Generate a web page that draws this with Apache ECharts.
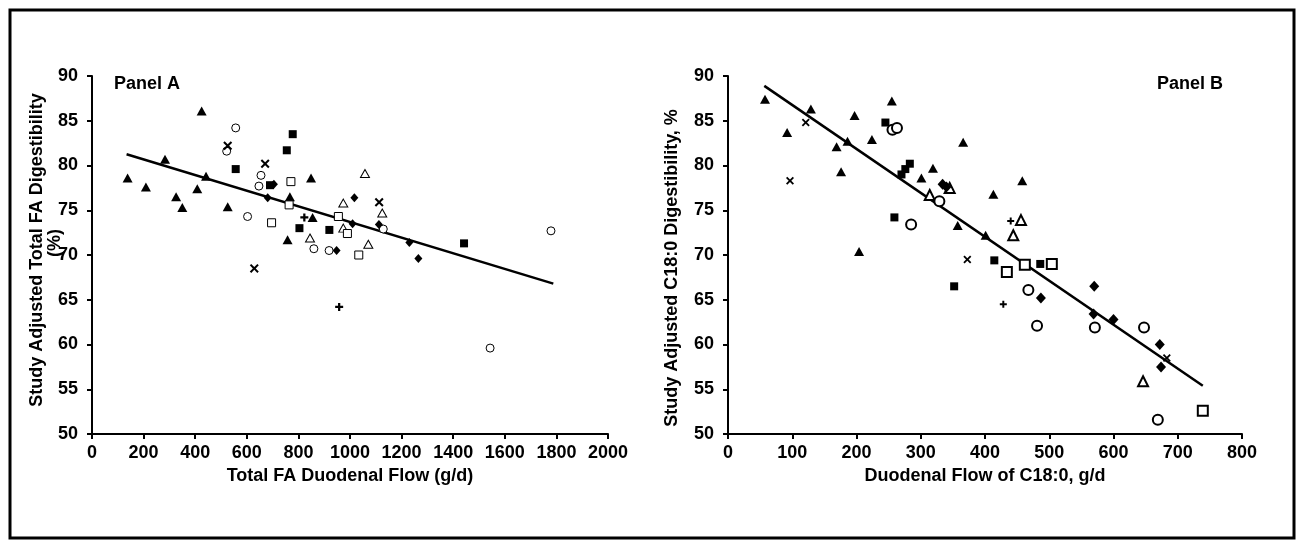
<!DOCTYPE html>
<html>
<head>
<meta charset="utf-8">
<script src="https://cdn.jsdelivr.net/npm/echarts@6/dist/echarts.min.js"></script>
<style>html,body{margin:0;padding:0;background:#fff;}#c{width:1304px;height:544px;}</style>
</head>
<body>
<div id="c"></div>
<script>
// ---------- Panel A data: [Total FA duodenal flow g/d, adjusted digestibility %] ----------
const aTriFilled = [[138,78.6],[209,77.6],[283,80.7],[425,86.1],[326,76.5],[350,75.3],[408,77.4],[442,78.8],[526,75.4],[767,76.5],[849,78.6],[758,71.7],[855,74.2]];
const aTriOpen = [[1058,79.1],[974,75.8],[974,73.0],[845,71.9],[1071,71.2],[1125,74.7]];
const aSqFilled = [[778,83.5],[755,81.7],[557,79.6],[690,77.8],[804,73.0],[920,72.8],[1442,71.3]];
const aSqOpen = [[771,78.2],[764,75.6],[696,73.6],[955,74.3],[990,72.4],[1034,70.0]];
const aCircleOpen = [[557,84.2],[522,81.6],[655,78.9],[647,77.7],[603,74.3],[860,70.7],[919,70.5],[1129,72.9],[1779,72.7],[1543,59.6]];
const aDiamond = [[681,76.4],[705,77.9],[1017,76.4],[948,70.5],[1010,73.5],[1112,73.4],[1230,71.4],[1265,69.6]];
const aCross = [[526,82.2],[671,80.2],[629,68.5],[1113,75.9]];
const aPlus = [[823,74.2],[958,64.2]];
const aTrendX = [134, 1788];
const aTrendY = [81.25, 66.8];

// ---------- Panel B data: [C18:0 duodenal flow g/d, adjusted C18:0 digestibility %] ----------
const bTriFilled = [[57.6,87.4],[129,86.3],[92,83.7],[169,82.1],[186,82.7],[197,85.6],[224,82.9],[255,87.2],[176,79.3],[204,70.4],[301,78.6],[319,79.7],[366,82.6],[357.5,73.3],[401,72.2],[458,78.3],[413,76.8]];
const bTriOpen = [[314,76.7],[345,77.5],[456,73.9],[444,72.2],[646,55.9]];
const bSqFilled = [[245,84.8],[259,74.2],[352,66.5],[283,80.2],[276,79.6],[270,79.0],[414.5,69.4],[486,69.0]];
const bSqOpen = [[434,68.1],[462,68.9],[504,69.0],[739,52.6]];
const bCircleOpen = [[256,84.0],[263,84.2],[329,76.0],[285,73.4],[467.5,66.1],[481,62.1],[571,61.9],[647.5,61.9],[669,51.6]];
const bDiamond = [[334,77.9],[340,77.6],[487,65.2],[570,66.5],[569,63.4],[600,62.8],[672,60.0],[674,57.5]];
const bCross = [[121,84.8],[96.5,78.3],[372.5,69.5],[683,58.5]];
const bPlus = [[440,73.8],[428.5,64.5]];
const bTrendX = [56.5, 739];
const bTrendY = [88.9, 55.4];

// ---------- tick labels / axis ranges ----------
const aXTicks = [0,200,400,600,800,1000,1200,1400,1600,1800,2000];
const bXTicks = [0,100,200,300,400,500,600,700,800];
const yTicks = [50,55,60,65,70,75,80,85,90];

const FONT = '"Liberation Sans", Arial, sans-serif';
const CROSS = 'path://M0,1.6L1.6,0L5,3.4L8.4,0L10,1.6L6.6,5L10,8.4L8.4,10L5,6.6L1.6,10L0,8.4L3.4,5Z';
const PLUS = 'path://M3.6,0H6.4V3.6H10V6.4H6.4V10H3.6V6.4H0V3.6H3.6Z';

function xAxisDef(idx, ticks, name){
  return {
    type:'value', gridIndex: idx, min: ticks[0], max: ticks[ticks.length-1],
    interval: ticks[1]-ticks[0],
    name: name, nameLocation:'middle', nameGap: 27,
    nameTextStyle:{fontFamily:FONT, fontWeight:'bold', fontSize:18, color:'#000'},
    axisLine:{show:true, onZero:false, lineStyle:{color:'#000', width:2}},
    axisTick:{show:true, inside:false, length:5, lineStyle:{color:'#000', width:2}},
    axisLabel:{fontFamily:FONT, fontWeight:'bold', fontSize:18, color:'#000', margin:10,
               formatter: v => String(v)},
    splitLine:{show:false}
  };
}
function yAxisDef(idx){
  return {
    type:'value', gridIndex: idx, min: yTicks[0], max: yTicks[yTicks.length-1],
    interval: yTicks[1]-yTicks[0],
    axisLine:{show:true, onZero:false, lineStyle:{color:'#000', width:2}},
    axisTick:{show:true, inside:false, length:5, lineStyle:{color:'#000', width:2}},
    axisLabel:{fontFamily:FONT, fontWeight:'bold', fontSize:18, color:'#000', margin:14,
               formatter: v => String(v)},
    splitLine:{show:false}
  };
}
function sc(idx, data, symbol, size, filled, bw){
  return {
    type:'scatter', xAxisIndex: idx, yAxisIndex: idx, data: data,
    symbol: symbol, symbolSize: size, animation:false, silent:true, z:3,
    itemStyle: filled ? {color:'#000', borderWidth:0, opacity:1}
                      : {color:'#fff', borderColor:'#000', borderWidth:bw, opacity:1}
  };
}
function trend(idx, xs, ys){
  return {
    type:'line', xAxisIndex: idx, yAxisIndex: idx,
    data: xs.map((x,i)=>[x, ys[i]]), showSymbol:false, symbol:'none',
    lineStyle:{color:'#000', width:2.5, opacity:1}, animation:false, silent:true, z:2
  };
}

const chart = echarts.init(document.getElementById('c'), null, {renderer:'canvas'});
chart.setOption({
  backgroundColor:'#fff',
  animation:false,
  grid:[
    {left:92, top:76, width:516, height:358},
    {left:728, top:76, width:514, height:358}
  ],
  xAxis:[ xAxisDef(0, aXTicks, 'Total FA Duodenal Flow (g/d)'),
          xAxisDef(1, bXTicks, 'Duodenal Flow of C18:0, g/d') ],
  yAxis:[ yAxisDef(0), yAxisDef(1) ],
  series:[
    trend(0, aTrendX, aTrendY),
    sc(0, aTriFilled, 'triangle', [10,9], true),
    sc(0, aTriOpen, 'triangle', [9,8], false, 1),
    sc(0, aSqFilled, 'rect', 8, true),
    sc(0, aSqOpen, 'rect', 8, false, 1),
    sc(0, aCircleOpen, 'circle', 8, false, 1),
    sc(0, aDiamond, 'diamond', [8,9], true),
    sc(0, aCross, CROSS, 9, true),
    sc(0, aPlus, PLUS, 8, true),
    trend(1, bTrendX, bTrendY),
    sc(1, bTriFilled, 'triangle', [10,9], true),
    sc(1, bTriOpen, 'triangle', [10,10], false, 2),
    sc(1, bSqFilled, 'rect', 8, true),
    sc(1, bSqOpen, 'rect', 10, false, 2),
    sc(1, bCircleOpen, 'circle', 10, false, 2),
    sc(1, bDiamond, 'diamond', [10,11], true),
    sc(1, bCross, CROSS, 8, true),
    sc(1, bPlus, PLUS, 7, true)
  ],
  graphic:[
    {type:'rect', shape:{x:10, y:10, width:1284, height:528}, style:{fill:'none', stroke:'#000', lineWidth:3}, silent:true},
    {type:'text', x:114, y:84, style:{text:'Panel A', font:'bold 18px '+FONT, fill:'#000', textAlign:'left', textVerticalAlign:'middle'}},
    {type:'text', x:1223, y:84, style:{text:'Panel B', font:'bold 18px '+FONT, fill:'#000', textAlign:'right', textVerticalAlign:'middle'}},
    {type:'text', x:37, y:250, rotation:Math.PI/2, style:{text:'Study Adjusted Total FA Digestibility', font:'bold 18px '+FONT, fill:'#000', textAlign:'center', textVerticalAlign:'middle'}},
    {type:'text', x:55, y:243, rotation:Math.PI/2, style:{text:'(%)', font:'bold 18px '+FONT, fill:'#000', textAlign:'center', textVerticalAlign:'middle'}},
    {type:'text', x:672, y:268, rotation:Math.PI/2, style:{text:'Study Adjusted C18:0 Digestibility, %', font:'bold 18px '+FONT, fill:'#000', textAlign:'center', textVerticalAlign:'middle'}}
  ]
});
</script>
</body>
</html>
